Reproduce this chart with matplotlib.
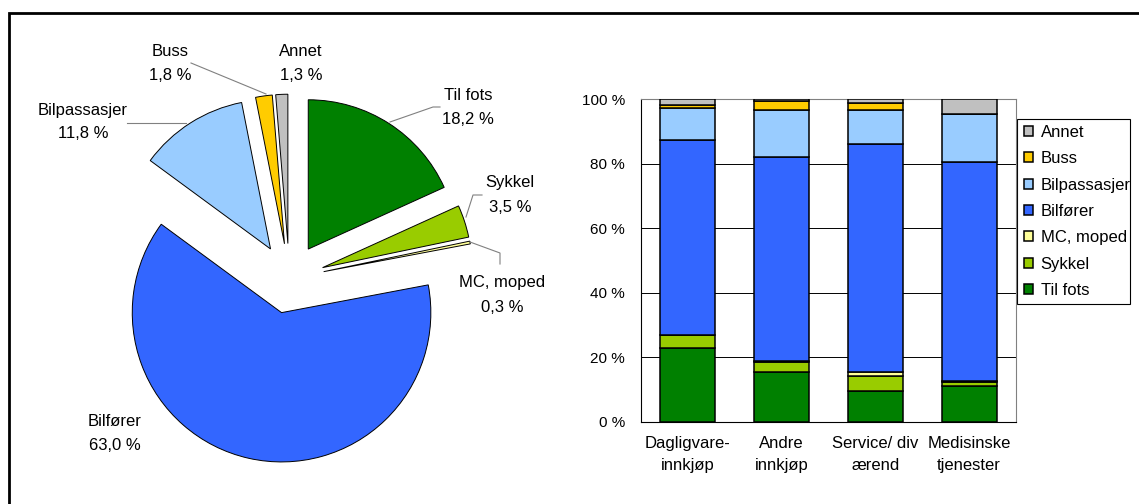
import matplotlib
matplotlib.use("Agg")
from matplotlib import pyplot as plt
from matplotlib import patches
import numpy as np

plt.rcParams['font.family'] = ['Liberation Sans', 'DejaVu Sans']
plt.rcParams['font.size'] = 12

W, H = 1139, 504

# --- pie: share of trips by mode ---
modes = ['Til fots', 'Sykkel', 'MC, moped', 'Bilfører', 'Bilpassasjer', 'Buss', 'Annet']
mode_colors = ['#008000', '#99CC00', '#FFFF99', '#3366FF', '#99CCFF', '#FFCC00', '#C0C0C0']
pie_share = [18.2, 3.5, 0.3, 63.0, 11.8, 1.8, 1.3]

# --- stacked bars: mode share by trip purpose ---
purposes = ['Dagligvare-\ninnkjøp', 'Andre\ninnkjøp', 'Service/ div\nærend', 'Medisinske\ntjenester']
til_fots = [23.0, 15.3, 9.5, 11.2]
sykkel = [3.8, 3.2, 4.8, 1.2]
mc_moped = [0.2, 0.4, 1.0, 0.2]
bilforer = [60.4, 63.3, 70.7, 68.0]
bilpassasjer = [9.9, 14.5, 10.7, 14.7]
buss = [0.9, 2.8, 2.3, 0.1]
annet = [1.8, 0.5, 1.0, 4.6]
bar_series = [til_fots, sykkel, mc_moped, bilforer, bilpassasjer, buss, annet]


def pct(v):
    return f"{v:.1f} %".replace('.', ',')


fig = plt.figure(figsize=(W / 100, H / 100), dpi=100)

# full-figure axes in pixel units (y up) for the pie, labels and frame
ax = fig.add_axes([0, 0, 1, 1])
ax.pie(pie_share, colors=mode_colors, startangle=90, counterclock=False,
       explode=[35] * len(pie_share), radius=149.3, center=(289.3, H - 278.5),
       wedgeprops=dict(edgecolor='black', linewidth=0.7))
ax.set_xlim(0, W)
ax.set_ylim(0, H)
ax.set_aspect('auto')
ax.axis('off')

# outer frame
ax.add_patch(patches.Rectangle((9, -20), W + 50, H - 13 + 20, fill=False,
                               edgecolor='black', linewidth=2.0))

# pie labels (x, y from top) and leader lines
label_pos = {
    'Til fots': (468, 95),
    'Sykkel': (510, 183),
    'MC, moped': (502, 283),
    'Bilfører': (115, 421),
    'Bilpassasjer': (83, 110),
    'Buss': (170, 51),
    'Annet': (301, 51),
}
for name, share in zip(modes, pie_share):
    x, y = label_pos[name]
    ax.text(x, H - y, name, ha='center', va='center')
    ax.text(x, H - y - 24, pct(share), ha='center', va='center')

leaders = [
    [(390, 122), (433, 107), (440, 107)],
    [(466, 217), (473, 195), (482, 195)],
    [(470, 242), (500, 253), (500, 264)],
    [(127, 123), (186, 123)],
    [(191, 63), (266, 94)],
]
for pts in leaders:
    xs = [p[0] for p in pts]
    ys = [H - p[1] for p in pts]
    ax.plot(xs, ys, color='#808080', linewidth=0.8)

# bar chart axes
left, right, y0, y100 = 640.5, 1016, 421.7, 99.3
bx = fig.add_axes([left / W, (H - y0) / H, (right - left) / W, (y0 - y100) / H])
pos = np.arange(len(purposes))
bottom = np.zeros(len(purposes))
handles = []
for vals, name, col in zip(bar_series, modes, mode_colors):
    b = bx.bar(pos, vals, bottom=bottom, width=0.585, color=col,
               edgecolor='black', linewidth=1.1, label=name, zorder=3)
    handles.append(b)
    bottom += np.array(vals)

bx.set_xlim(-0.5, len(purposes) - 0.5)
bx.set_ylim(0, 100)
bx.set_yticks(range(0, 101, 20))
bx.set_yticklabels([f"{v} %" for v in range(0, 101, 20)], fontsize=11)
bx.set_xticks(pos)
bx.set_xticklabels(purposes, linespacing=1.65)
bx.tick_params(axis='both', length=0)
bx.tick_params(axis='y', pad=11)
bx.tick_params(axis='x', pad=10)
for v in (20, 40, 60, 80):
    bx.axhline(v, color='black', linewidth=0.7, zorder=1)
for s in ('top', 'right'):
    bx.spines[s].set_color('#808080')
for s in ('left', 'bottom'):
    bx.spines[s].set_color('black')
for s in bx.spines.values():
    s.set_linewidth(0.8)

# legend, Annet first
leg = fig.legend(handles[::-1], modes[::-1], loc='upper left',
                 bbox_to_anchor=(1019 / W, (H - 120) / H), frameon=False,
                 handlelength=0.55, handleheight=0.55, handletextpad=0.45,
                 labelspacing=0.68, borderaxespad=0, borderpad=0.3)
ax.add_patch(patches.Rectangle((1017, H - 304), 113, 185, fill=False,
                               edgecolor='black', linewidth=0.8))

plt.savefig('out.png', dpi=100)
